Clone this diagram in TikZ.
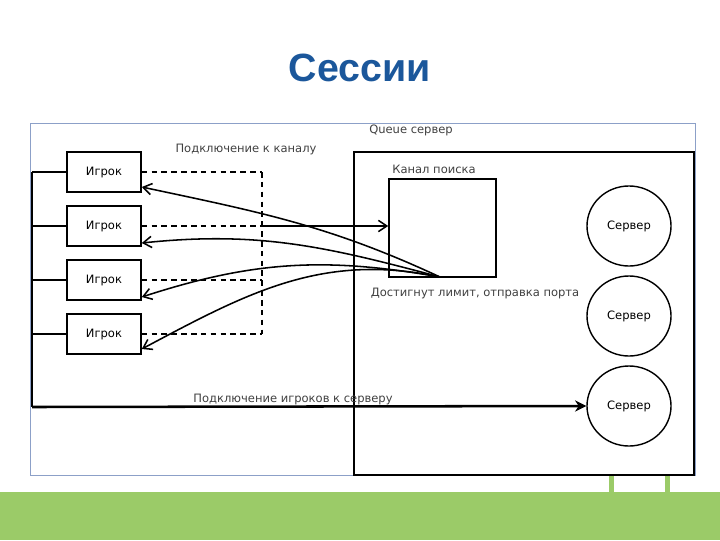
\documentclass[tikz,border=0pt]{standalone}
\usepackage{fontspec}
\setmainfont{DejaVu Sans}
\newfontfamily\titlefont{Liberation Sans}
\usetikzlibrary{shapes.geometric,arrows.meta}
\definecolor{titleblue}{RGB}{27,87,155}
\definecolor{bargreen}{RGB}{155,203,104}
\definecolor{framegray}{RGB}{140,160,200}
\begin{document}
\begin{tikzpicture}[
			x=0.025cm, y=-0.025cm,
			font=\fontsize{8.2}{9}\selectfont,
			player/.style={rectangle,draw,line width=1.1pt,minimum width=1.85cm,minimum height=1cm,inner sep=0pt},
			server/.style={ellipse,draw,line width=1pt,minimum width=2.1cm,minimum height=2cm,inner sep=0pt},
			label/.style={text=black!75,inner sep=0pt},
			link/.style={line width=1.1pt},
			joinline/.style={line width=1.1pt,dash pattern=on 4pt off 3pt},
			reply/.style={line width=1.1pt,-{Straight Barb[length=6pt,width=8pt]}}
		]
		\useasboundingbox (0,0) rectangle (720,540);
		% title and bottom bar
		\node[font=\titlefont\bfseries\fontsize{28}{32}\selectfont,text=titleblue] (title) at (360,68) {Сессии};
		\fill[bargreen] (0,492) rectangle (720,540);
		\fill[bargreen] (609,476) rectangle (614,492);
		\fill[bargreen] (665,476) rectangle (670,492);
		% frames
		\draw[framegray,line width=0.6pt] (30,123) rectangle (695,475);
		\draw[line width=0.9pt] (354,152) rectangle (694,475);
		\node[label] (queue) at (411,130) {Queue сервер};
		% players
		\node[player] (p1) at (104,172) {Игрок};
		\node[player] (p2) at (104,226) {Игрок};
		\node[player] (p3) at (104,280) {Игрок};
		\node[player] (p4) at (104,334) {Игрок};
		\node[label] (joinlbl) at (246,149) {Подключение к каналу};
		% search channel
		\node[rectangle,draw,line width=1.1pt,minimum width=2.675cm,minimum height=2.45cm] (chan) at (442.5,228) {};
		\node[label] (chanlbl) at (434,169) {Канал поиска};
		\node[label] (limit) at (475,293) {Достигнут лимит, отправка порта};
		% servers
		\node[server] (s1) at (629,226) {Сервер};
		\node[server] (s2) at (629,316) {Сервер};
		\node[server] (s3) at (629,406) {Сервер};
		\node[label] (connlbl) at (293,399) {Подключение игроков к серверу};
		% connectors
		\coordinate (bus) at (32,172);
		\coordinate (busend) at (32,407);
		\coordinate (dash) at (262,172);
		\coordinate (src) at (440,277);
		\draw[link] (bus) -- (busend);
		\foreach \i in {1,...,4} {
				\draw[link] (p\i.west) -- (p\i.west -| bus);
				\draw[joinline] (p\i.east) -- (p\i.east -| dash);
			}
		\draw[joinline] (p1.east -| dash) -- (p4.east -| dash);
		\draw[reply] (p2.east -| dash) -- (chan.west |- p2.east);
		\draw[reply] (src) to[out=155,in=-12] ([yshift=-0.375cm]p1.east);
		\draw[reply] (src) to[out=165,in=6] ([yshift=-0.425cm]p2.east);
		\draw[reply] (src) to[out=170,in=18] ([yshift=-0.425cm]p3.east);
		\draw[reply] (src) to[out=168,in=28] ([yshift=-0.375cm]p4.east);
		\draw[line width=1.8pt,-{Stealth[length=8pt,width=8pt]}] (busend) -- (s3.west);
	\end{tikzpicture}
\end{document}
